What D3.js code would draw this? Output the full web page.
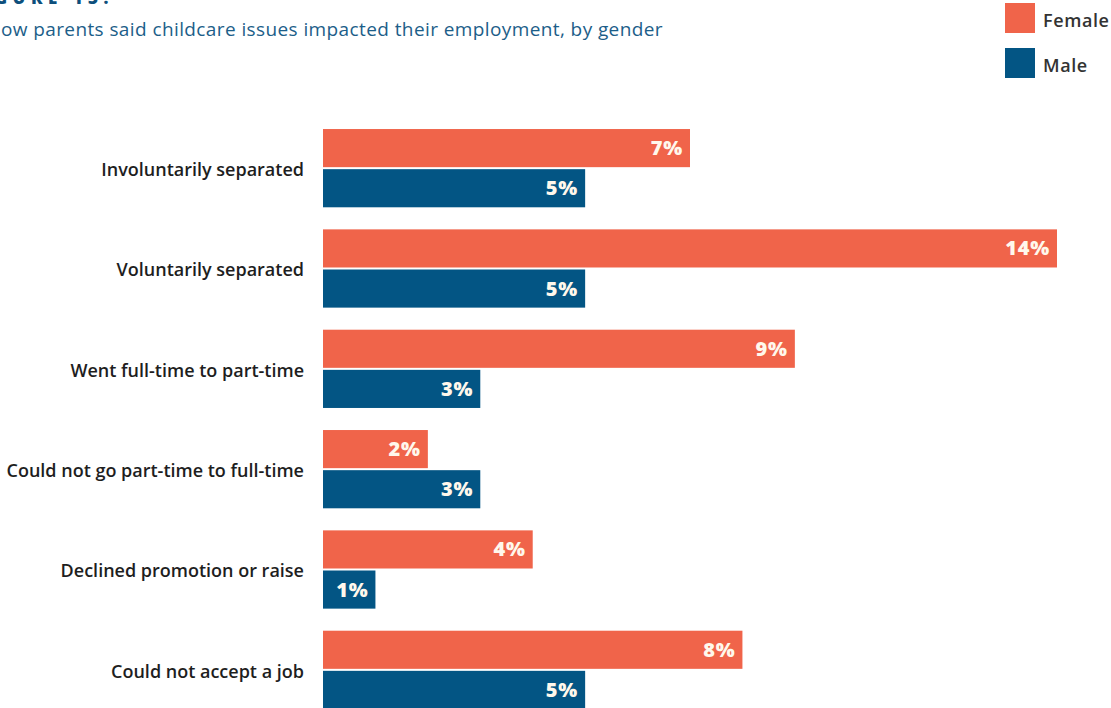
<!DOCTYPE html>
<html><head><meta charset="utf-8">
<script src="https://cdn.jsdelivr.net/npm/d3@7"></script>
<style>body{margin:0;background:#fff;} svg{display:block;font-family:"Open Sans",sans-serif;}</style>
</head><body>
<svg id="c" width="1111" height="708"></svg>
<script>
const categories = ["Involuntarily separated","Voluntarily separated","Went full-time to part-time","Could not go part-time to full-time","Declined promotion or raise","Could not accept a job"];
const series = ["Female","Male"];
const female = [7,14,9,2,4,8];
const male = [5,5,3,3,1,5];
const colors = {Female:"#F0644A", Male:"#035584"};
const title = "FIGURE 13:";
const subtitle = "How parents said childcare issues impacted their employment, by gender";

const svg = d3.select("#c");
const x = d3.scaleLinear().domain([0,14]).range([323,1057]);
const y0 = d3.scaleBand().domain(categories).range([119,719]).paddingInner(0.22).paddingOuter(0.1);
const y1 = d3.scaleBand().domain(series).range([0,y0.bandwidth()]).paddingInner(0.05);
const data = categories.map((c,i)=>({cat:c, vals:[{s:"Female",v:female[i]},{s:"Male",v:male[i]}]}));

svg.append("text").attr("x",114).attr("y",4).attr("text-anchor","end")
  .attr("font-size",17).attr("font-weight",800).attr("letter-spacing","5.5px").attr("fill","#0D4F7C").text(title);
svg.append("text").attr("x",663).attr("y",36).attr("text-anchor","end")
  .attr("font-size",19).attr("letter-spacing","0.4px").attr("fill","#1C5E89").text(subtitle);

const g = svg.selectAll("g.cat").data(data).join("g").attr("class","cat")
  .attr("transform",d=>`translate(0,${y0(d.cat)})`);
g.selectAll("rect").data(d=>d.vals).join("rect")
  .attr("x",x(0)).attr("y",d=>y1(d.s)).attr("width",d=>x(d.v)-x(0)).attr("height",y1.bandwidth())
  .attr("fill",d=>colors[d.s]);
g.selectAll("text.val").data(d=>d.vals).join("text").attr("class","val")
  .attr("x",d=>x(d.v)-7).attr("y",d=>y1(d.s)+y1.bandwidth()/2+7).attr("text-anchor","end")
  .attr("font-size",20).attr("font-weight",800).attr("letter-spacing","0.8px").attr("fill","#FFF8EC").text(d=>d.v+"%");
g.append("text").attr("x",304).attr("y",y0.bandwidth()/2+8).attr("text-anchor","end")
  .attr("font-size",18).attr("font-weight",600).attr("fill","#1e1e1e").text(d=>d.cat);

const lg = svg.selectAll("g.lg").data(series).join("g").attr("class","lg")
  .attr("transform",(d,i)=>`translate(1005,${3+i*45})`);
lg.append("rect").attr("width",30).attr("height",30).attr("fill",d=>colors[d]);
lg.append("text").attr("x",38).attr("y",24).attr("font-size",18).attr("font-weight",600).attr("letter-spacing","0.6px").attr("fill","#333").text(d=>d);
</script>
</body></html>
